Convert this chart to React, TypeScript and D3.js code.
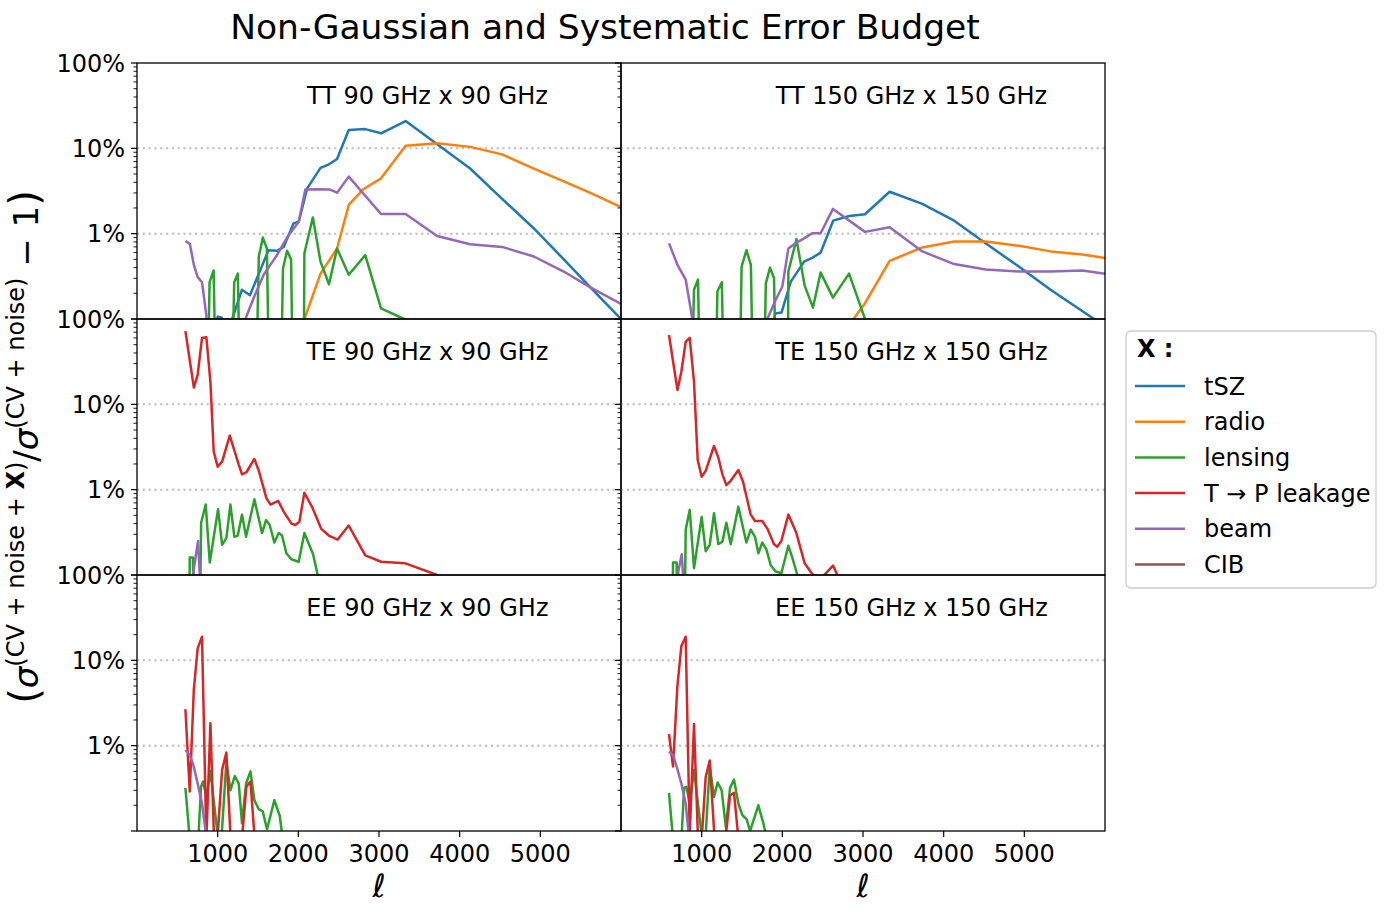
import React from 'react';
import * as d3 from 'd3';

// values; BELOW marks points that fall under the 0.1% floor
const BELOW = 1e-5;

const X_TICKS = [1000, 2000, 3000, 4000, 5000];
const Y_TICKS = [1, 0.1, 0.01];
const Y_TICK_LABELS = ['100%', '10%', '1%'];

const SERIES_KEYS = ['tsz', 'radio', 'lensing', 'leakage', 'beam', 'cib'];
const SERIES_NAMES = ['tSZ', 'radio', 'lensing', 'T \u2192 P leakage', 'beam', 'CIB'];
const SERIES_COLORS = ['#1f77b4', '#ff7f0e', '#2ca02c', '#d62728', '#9467bd', '#8c564b'];

const TT90_TSZ = [[950, 0.0006], [1000, 0.00106], [1050, 0.00104], [1100, 0.0005], [1180, 0.001], [1300, 0.0022], [1400, 0.0019], [1630, 0.0064], [1735, 0.0063], [1820, 0.007], [1940, 0.0132], [2005, 0.0138], [2110, 0.034], [2275, 0.059], [2380, 0.065], [2480, 0.075], [2625, 0.164], [2830, 0.168], [3025, 0.15], [3330, 0.209], [4130, 0.058], [4500, 0.027], [4920, 0.0115], [5300, 0.0049], [5650, 0.0022], [6000, 0.001]];
const TT90_RADIO = [[2040, 0.0008], [2275, 0.0034], [2385, 0.0049], [2480, 0.0067], [2625, 0.0217], [2810, 0.0334], [3025, 0.0445], [3330, 0.1075], [3720, 0.1145], [4130, 0.104], [4525, 0.085], [4920, 0.058], [5290, 0.041], [5620, 0.03], [6000, 0.0205]];
const TT90_LENS = [[850, BELOW], [900, 0.0027], [950, 0.0037], [1000, BELOW], [1150, BELOW], [1205, 0.0027], [1250, 0.0034], [1300, BELOW], [1450, BELOW], [1510, 0.0054], [1560, 0.009], [1610, 0.0067], [1660, BELOW], [1760, BELOW], [1810, 0.0039], [1860, 0.0063], [1910, 0.005], [1950, BELOW], [2060, BELOW], [2075, 0.0059], [2180, 0.0155], [2275, 0.0047], [2380, 0.00255], [2480, 0.0067], [2625, 0.0033], [2830, 0.0056], [3025, 0.00133], [3330, 0.00098], [3720, BELOW]];
const TT90_BEAM = [[600, 0.0082], [655, 0.0076], [705, 0.0043], [752, 0.0031], [806, 0.0027], [860, 0.0011], [900, BELOW], [1300, BELOW], [1344, 0.001], [1450, 0.0018], [1570, 0.0033], [1735, 0.0056], [1860, 0.009], [1943, 0.0115], [2005, 0.0138], [2087, 0.033], [2232, 0.0332], [2385, 0.033], [2480, 0.0302], [2625, 0.0466], [3025, 0.017], [3330, 0.017], [3720, 0.0094], [4130, 0.0075], [4525, 0.007], [4920, 0.0054], [5290, 0.0036], [5620, 0.00235], [6000, 0.0015]];

const TT150_TSZ = [[1870, 0.0006], [1910, 0.00116], [1990, 0.00119], [2105, 0.00274], [2270, 0.0047], [2370, 0.0052], [2475, 0.006], [2630, 0.0142], [2830, 0.0161], [3025, 0.0169], [3330, 0.031], [3735, 0.0223], [4130, 0.0142], [4520, 0.0077], [4935, 0.0041], [5325, 0.0022], [5865, 0.001], [6000, 0.00083]];
const TT150_RADIO = [[2827, 0.00085], [3025, 0.00153], [3330, 0.0048], [3735, 0.0069], [4130, 0.0081], [4520, 0.0081], [4935, 0.0072], [5325, 0.0062], [5720, 0.0057], [6000, 0.0052]];
const TT150_LENS = [[850, BELOW], [905, 0.0022], [955, 0.0029], [1000, BELOW], [1150, BELOW], [1195, 0.0021], [1250, 0.0027], [1300, BELOW], [1450, BELOW], [1495, 0.0041], [1555, 0.0064], [1610, 0.0043], [1660, BELOW], [1750, BELOW], [1795, 0.0026], [1847, 0.004], [1897, 0.003], [1947, BELOW], [2060, BELOW], [2075, 0.0036], [2175, 0.0086], [2277, 0.00246], [2380, 0.00136], [2475, 0.0035], [2628, 0.00178], [2827, 0.0034], [3025, 0.001], [3330, BELOW]];
const TT150_BEAM = [[596, 0.0077], [700, 0.0043], [802, 0.0029], [885, 0.001], [930, BELOW], [1780, BELOW], [1814, 0.001], [1917, 0.00167], [2000, 0.0024], [2075, 0.0067], [2170, 0.0078], [2270, 0.0088], [2370, 0.0101], [2475, 0.0101], [2628, 0.0195], [3025, 0.0105], [3330, 0.0119], [3735, 0.0062], [4130, 0.0044], [4520, 0.0038], [4935, 0.0036], [5325, 0.0036], [5720, 0.0037], [6000, 0.0034]];

const TE90_LEAK = [[600, 0.72], [705, 0.157], [752, 0.221], [806, 0.6], [860, 0.61], [910, 0.184], [951, 0.0279], [1000, 0.0186], [1055, 0.0213], [1150, 0.043], [1260, 0.0198], [1302, 0.0151], [1356, 0.016], [1455, 0.0229], [1510, 0.0166], [1605, 0.0079], [1655, 0.0067], [1750, 0.0074], [1820, 0.0055], [1915, 0.004], [1963, 0.00385], [2013, 0.0042], [2075, 0.0092], [2170, 0.0063], [2282, 0.0035], [2377, 0.0029], [2488, 0.0026], [2625, 0.0038], [2830, 0.0017], [3026, 0.00143], [3327, 0.00137], [3720, 0.001], [4130, 0.0005]];
const TE90_LENS = [[640, BELOW], [654, 0.0016], [695, 0.0016], [720, BELOW], [760, BELOW], [795, 0.0041], [852, 0.0067], [902, 0.0014], [1005, 0.0059], [1055, 0.00225], [1108, 0.0027], [1158, 0.0067], [1207, 0.0028], [1249, 0.0029], [1302, 0.0051], [1352, 0.0028], [1455, 0.0077], [1550, 0.0031], [1600, 0.0044], [1645, 0.00385], [1703, 0.0024], [1757, 0.0031], [1798, 0.0029], [1852, 0.0018], [1914, 0.00153], [2005, 0.00143], [2075, 0.0031], [2183, 0.00175], [2240, 0.001], [2300, BELOW]];
const TE90_BEAM = [[690, BELOW], [700, 0.0011], [757, 0.0025], [800, 0.0004]];

const TE150_LEAK = [[595, 0.65], [700, 0.147], [748, 0.241], [802, 0.54], [852, 0.6], [905, 0.184], [951, 0.0223], [1000, 0.0142], [1050, 0.0166], [1153, 0.0325], [1207, 0.0237], [1257, 0.0151], [1306, 0.0113], [1360, 0.0127], [1455, 0.017], [1513, 0.0124], [1608, 0.0051], [1661, 0.0043], [1752, 0.0043], [1814, 0.0035], [1897, 0.0023], [1938, 0.00215], [1988, 0.0025], [2075, 0.0051], [2174, 0.0031], [2277, 0.00137], [2372, 0.00102], [2475, 0.0009], [2628, 0.00129], [2830, 0.0005]];
const TE150_LENS = [[630, BELOW], [645, 0.0014], [690, 0.0014], [710, BELOW], [770, BELOW], [802, 0.0034], [852, 0.0058], [905, 0.0012], [1000, 0.0048], [1050, 0.0019], [1100, 0.00225], [1153, 0.0053], [1207, 0.0023], [1257, 0.00245], [1306, 0.0041], [1360, 0.0023], [1455, 0.0063], [1554, 0.0024], [1608, 0.0034], [1661, 0.0028], [1703, 0.0018], [1752, 0.0024], [1802, 0.002], [1856, 0.0013], [1917, 0.0011], [1988, 0.00105], [2075, 0.0022], [2124, 0.0016], [2186, 0.001], [2250, BELOW]];
const TE150_BEAM = [[700, BELOW], [710, 0.0011], [753, 0.00175], [795, 0.0004]];

const EE90_LEAK = [[600, 0.0267], [654, 0.0029], [704, 0.045], [752, 0.138], [806, 0.189], [860, 0.0008], [910, 0.0183], [955, 0.0008], [1000, 0.0009], [1055, 0.0052], [1108, 0.0083], [1158, 0.0009], [1230, BELOW], [1305, 0.0009], [1356, 0.0033], [1407, 0.0038], [1455, 0.0009], [1500, BELOW]];
const EE90_LENS = [[600, 0.0032], [654, 0.0008], [700, BELOW], [760, 0.0008], [794, 0.0033], [819, 0.0038], [860, 0.0025], [910, 0.005], [1000, 0.0009], [1050, 0.0009], [1108, 0.0065], [1158, 0.003], [1212, 0.0044], [1261, 0.0036], [1302, 0.00123], [1352, 0.0036], [1407, 0.005], [1455, 0.0023], [1509, 0.0018], [1559, 0.0017], [1612, 0.00105], [1703, 0.0023], [1770, 0.0015], [1800, 0.0009], [1850, BELOW]];
const EE90_BEAM = [[600, 0.0089], [654, 0.0078], [704, 0.0057], [752, 0.0036], [806, 0.0021], [850, 0.001], [900, 0.0003]];

const EE150_LEAK = [[595, 0.0137], [645, 0.0057], [699, 0.05], [748, 0.147], [802, 0.189], [852, 0.0009], [905, 0.0179], [955, 0.0008], [1000, 0.0008], [1050, 0.0043], [1100, 0.0067], [1157, 0.0009], [1230, BELOW], [1300, 0.0009], [1352, 0.0026], [1401, 0.0028], [1451, 0.0009], [1500, BELOW]];
const EE150_LENS = [[595, 0.0028], [645, 0.0008], [700, BELOW], [750, 0.0008], [782, 0.0032], [810, 0.0033], [852, 0.0021], [905, 0.0052], [1000, 0.0009], [1050, 0.0009], [1100, 0.0058], [1153, 0.0025], [1198, 0.0037], [1248, 0.003], [1300, 0.0011], [1352, 0.0032], [1401, 0.004], [1455, 0.0021], [1504, 0.00154], [1558, 0.00137], [1600, 0.001], [1703, 0.002], [1765, 0.00123], [1786, 0.001], [1850, BELOW]];
const EE150_BEAM = [[595, 0.0085], [645, 0.0078], [699, 0.0053], [748, 0.0036], [802, 0.0021], [835, 0.001], [880, 0.0003]];

const PANEL_LABELS = ['TT 90 GHz x 90 GHz', 'TT 150 GHz x 150 GHz', 'TE 90 GHz x 90 GHz', 'TE 150 GHz x 150 GHz', 'EE 90 GHz x 90 GHz', 'EE 150 GHz x 150 GHz'];
const PANEL_DATA: Record<string, number[][]>[] = [
  { tsz: TT90_TSZ, radio: TT90_RADIO, lensing: TT90_LENS, beam: TT90_BEAM },
  { tsz: TT150_TSZ, radio: TT150_RADIO, lensing: TT150_LENS, beam: TT150_BEAM },
  { lensing: TE90_LENS, leakage: TE90_LEAK, beam: TE90_BEAM },
  { lensing: TE150_LENS, leakage: TE150_LEAK, beam: TE150_BEAM },
  { lensing: EE90_LENS, leakage: EE90_LEAK, beam: EE90_BEAM },
  { lensing: EE150_LENS, leakage: EE150_LEAK, beam: EE150_BEAM },
];

const W = 1389;
const H = 920;
const LEFTS = [137, 621];
const PW = 484;
const TOPS = [63, 319, 575];
const PH = 256;
const FONT = 'DejaVu Sans, sans-serif';
const LW = 2.5;

const minorTicks: number[] = [];
[0.001, 0.01, 0.1].forEach((d) => {
  for (let k = 2; k <= 9; k++) minorTicks.push(k * d);
});

function Panel({ idx }: { idx: number }) {
  const col = idx % 2;
  const row = Math.floor(idx / 2);
  const left = LEFTS[col];
  const top = TOPS[row];
  const x = d3.scaleLinear().domain([0, 6000]).range([left, left + PW]);
  const y = d3.scaleLog().domain([0.001, 1]).range([top + PH, top]);
  const line = d3.line<number[]>().x((d) => x(d[0])).y((d) => y(d[1]));
  const data = PANEL_DATA[idx];
  const clipId = `clip-${idx}`;
  return (
    <g>
      <defs>
        <clipPath id={clipId}>
          <rect x={left} y={top} width={PW} height={PH} />
        </clipPath>
      </defs>
      {[0.1, 0.01].map((v) => (
        <line key={v} x1={left} x2={left + PW} y1={y(v)} y2={y(v)}
          stroke="#bdbdbd" strokeWidth={2} strokeDasharray="2.2,3.6" />
      ))}
      <g clipPath={`url(#${clipId})`}>
        {SERIES_KEYS.map((k, i) =>
          data[k] ? (
            <path key={k} d={line(data[k]) || ''} fill="none" stroke={SERIES_COLORS[i]}
              strokeWidth={LW} strokeLinejoin="round" />
          ) : null
        )}
      </g>
      <rect x={left} y={top} width={PW} height={PH} fill="none" stroke="#000" strokeWidth={1.3} />
      {[1, 0.1, 0.01, 0.001].map((v) => (
        <line key={`M${v}`} x1={left - 6} x2={left} y1={y(v)} y2={y(v)} stroke="#000" strokeWidth={1.2} />
      ))}
      {minorTicks.map((v) => (
        <line key={`m${v}`} x1={left - 3.5} x2={left} y1={y(v)} y2={y(v)} stroke="#000" strokeWidth={0.9} />
      ))}
      {col === 0 &&
        Y_TICKS.map((v, i) => (
          <text key={`yl${v}`} x={left - 12} y={y(v) + 8.5} textAnchor="end" fontSize={24} fontFamily={FONT}>
            {Y_TICK_LABELS[i]}
          </text>
        ))}
      {row === 2 &&
        X_TICKS.map((t) => (
          <g key={`xt${t}`}>
            <line x1={x(t)} x2={x(t)} y1={top + PH} y2={top + PH + 6} stroke="#000" strokeWidth={1.2} />
            <text x={x(t)} y={top + PH + 31} textAnchor="middle" fontSize={24} fontFamily={FONT}>{t}</text>
          </g>
        ))}
      {row === 2 && (
        <text x={left + PW / 2} y={897} textAnchor="middle" fontSize={32} fontStyle="italic" fontFamily={FONT}>
          {'\u2113'}
        </text>
      )}
      <text x={left + PW * 0.6} y={top + 41} textAnchor="middle" fontSize={24} fontFamily={FONT}>
        {PANEL_LABELS[idx]}
      </text>
    </g>
  );
}

export default function App() {
  const rowStep = 35.7;
  return (
    <svg width={W} height={H} viewBox={`0 0 ${W} ${H}`}
      style={{ position: 'absolute', left: 0, top: 0, background: '#fff' }}>
      <rect width={W} height={H} fill="#fff" />
      <text x={605} y={39} textAnchor="middle" fontSize={34.5} fontFamily={FONT}>
        Non-Gaussian and Systematic Error Budget
      </text>
      {PANEL_LABELS.map((_, i) => <Panel key={i} idx={i} />)}

      <text transform="translate(38,447) rotate(-90)" textAnchor="middle" fontFamily={FONT} fontSize={34}>
        <tspan fontSize={40}>(</tspan>
        <tspan fontStyle="italic">{'\u03c3'}</tspan>
        <tspan fontSize={24} dy={-14}>(CV + noise + </tspan>
        <tspan fontSize={24} fontWeight="bold">X</tspan>
        <tspan fontSize={24}>)</tspan>
        <tspan dy={14}>/</tspan>
        <tspan fontStyle="italic">{'\u03c3'}</tspan>
        <tspan fontSize={24} dy={-14}>(CV + noise)</tspan>
        <tspan dy={14}>{' \u2212 1'}</tspan>
        <tspan fontSize={40}>)</tspan>
      </text>

      <g>
        <rect x={1126} y={331} width={250} height={257} rx={5} fill="#fff" fillOpacity={0.8}
          stroke="#cccccc" strokeWidth={1.3} />
        <text x={1137} y={357} fontSize={24} fontFamily={FONT} fontWeight="bold">X :</text>
        {SERIES_NAMES.map((name, i) => {
          const yy = 386 + i * rowStep;
          return (
            <g key={name}>
              <line x1={1135} x2={1185} y1={yy} y2={yy} stroke={SERIES_COLORS[i]} strokeWidth={LW} />
              <text x={1204} y={yy + 8.5} fontSize={24} fontFamily={FONT}>{name}</text>
            </g>
          );
        })}
      </g>
    </svg>
  );
}
